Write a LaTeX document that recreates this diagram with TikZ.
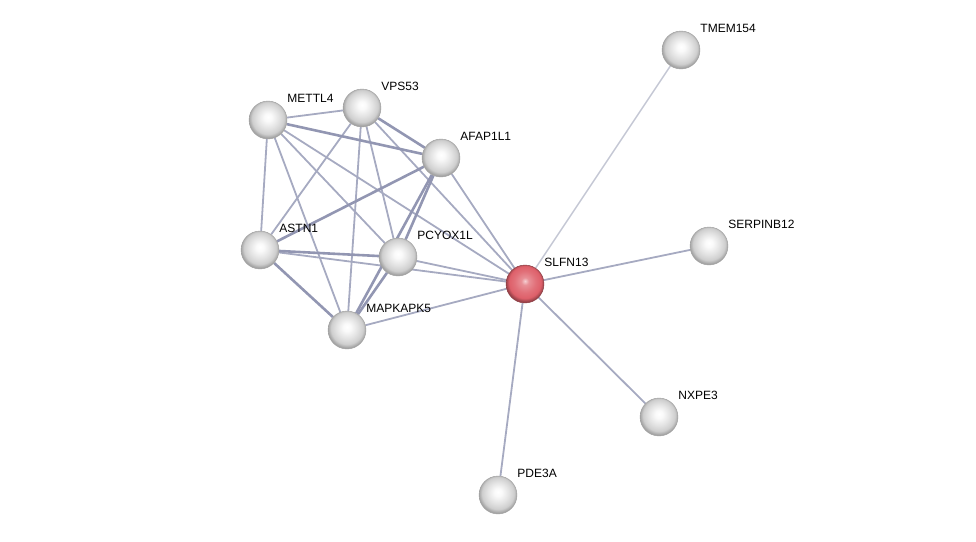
\documentclass[tikz,border=0pt]{standalone}
\usepackage{fontspec}
\setmainfont{Liberation Sans}
\usetikzlibrary{backgrounds}
\definecolor{edgeLight}{RGB}{196, 199, 212}
\definecolor{edgeMid}{RGB}{166, 170, 193}
\definecolor{edgeDark}{RGB}{146, 150, 178}
\definecolor{queryRed}{RGB}{222, 96, 106}

\pgfdeclareradialshading{sphereGrey}{\pgfpoint{0bp}{4bp}}{%
  color(0bp)=(white); color(5bp)=(white!96!gray); color(14bp)=(gray!22);
  color(21bp)=(gray!38); color(25bp)=(gray!70); color(50bp)=(gray!70)}
\pgfdeclareradialshading{sphereRed}{\pgfpoint{0bp}{4bp}}{%
  color(0bp)=(queryRed!30!white); color(5bp)=(queryRed!70!white); color(14bp)=(queryRed!90!white);
  color(21bp)=(queryRed); color(25bp)=(queryRed!70!black); color(50bp)=(queryRed!70!black)}

\tikzset{
  prot/.style={circle, minimum size=38pt, inner sep=0pt, shading=sphereGrey,
               draw=gray!75, line width=0.4pt},
  query/.style={prot, shading=sphereRed, draw=queryRed!60!black},
  lbl/.style={font=\fontsize{12}{14}\selectfont, inner sep=1pt, label distance=2pt,
              xshift=2pt, yshift=3pt},
  weak/.style={draw=edgeLight, line width=1.5pt},
  mid/.style={draw=edgeMid, line width=1.8pt},
  strong/.style={draw=edgeDark, line width=2.6pt}
}

\begin{document}
\begin{tikzpicture}[x=1pt, y=-1pt]
  \useasboundingbox (0,0) rectangle (976,541);

  % proteins
  \node[prot, label={[lbl]40:TMEM154}]   (tmem)   at (681,50)  {};
  \node[prot, label={[lbl]40:METTL4}]    (mettl)  at (268,120) {};
  \node[prot, label={[lbl]40:VPS53}]     (vps)    at (362,108) {};
  \node[prot, label={[lbl]40:AFAP1L1}]   (afap)   at (441,158) {};
  \node[prot, label={[lbl]40:ASTN1}]     (astn)   at (260,250) {};
  \node[prot, label={[lbl]40:PCYOX1L}]   (pcyox)  at (398,257) {};
  \node[query, label={[lbl]40:SLFN13}]   (slfn)   at (525,284) {};
  \node[prot, label={[lbl]40:SERPINB12}] (serpin) at (709,246) {};
  \node[prot, label={[lbl]40:MAPKAPK5}]  (mapk)   at (347,330) {};
  \node[prot, label={[lbl]40:NXPE3}]     (nxpe)   at (659,417) {};
  \node[prot, label={[lbl]40:PDE3A}]     (pde)    at (498,495) {};

  % interactions
  \begin{scope}[on background layer]
    \draw[weak] (slfn) -- (tmem);
    \foreach \a/\b in {mettl/vps, mettl/astn, mettl/pcyox, mettl/mapk, mettl/slfn,
                       vps/astn, vps/mapk, vps/slfn, vps/pcyox, afap/slfn, pcyox/slfn,
                       astn/slfn, mapk/slfn, slfn/serpin, slfn/nxpe, slfn/pde}
      \draw[mid] (\a) -- (\b);
    \foreach \a/\b in {mettl/afap, vps/afap, afap/astn, afap/pcyox, afap/mapk,
                       pcyox/mapk, astn/mapk, astn/pcyox}
      \draw[strong] (\a) -- (\b);
  \end{scope}
\end{tikzpicture}
\end{document}
